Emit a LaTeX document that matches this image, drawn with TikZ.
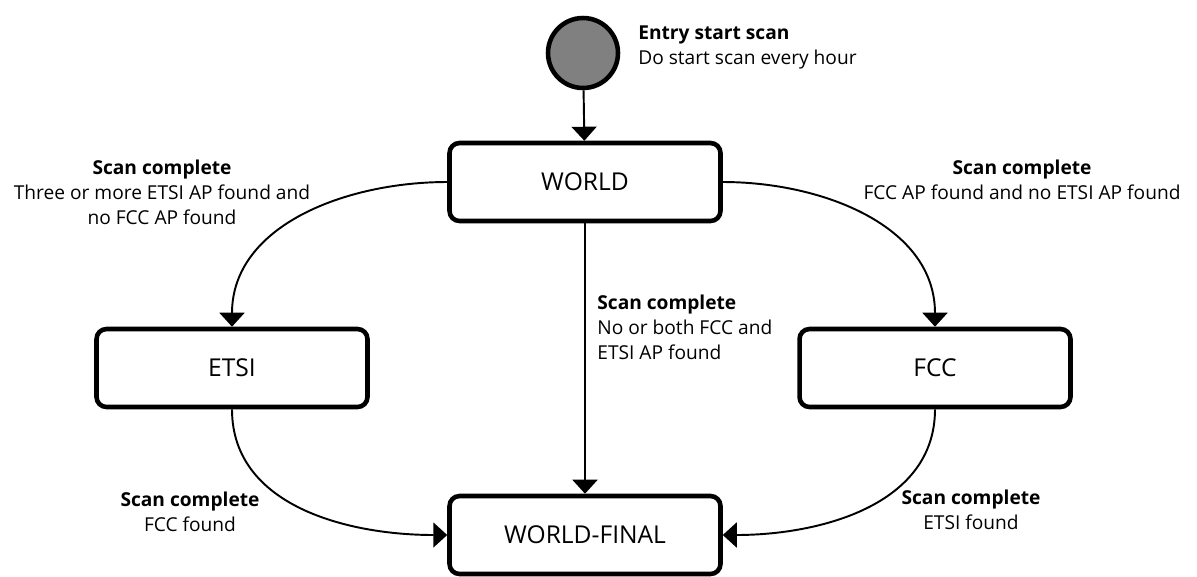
\documentclass[tikz,border=0pt]{standalone}
\usepackage{fontspec}
\setmainfont{Open Sans}
\usetikzlibrary{arrows.meta}

\begin{document}
\begin{tikzpicture}[x=0.02cm,y=-0.02cm,
	statebox/.style={draw,line width=2.6pt,rounded corners=0.2cm,minimum width=5.42cm,minimum height=1.56cm,font=\fontsize{14pt}{16pt}\selectfont},
	trans/.style={line width=1.1pt,-{Triangle[width=0.5cm,length=0.28cm]}},
	lbl/.style={align=center,inner sep=0pt,font=\fontsize{10.9pt}{14.2pt}\selectfont}]
	\useasboundingbox (0,0) rectangle (1197,576);

	% states
	\node [circle,draw,line width=2.6pt,fill=black!50,minimum size=1.4cm,inner sep=0pt] (entry) at (583,53) {};
	\node [statebox] (world) at (585,182) {WORLD};
	\node [statebox] (etsi) at (232,368) {ETSI};
	\node [statebox] (fcc) at (935,368) {FCC};
	\node [statebox] (final) at (585,535) {WORLD-FINAL};

	% transitions
	\draw [trans] (entry) -- (world);
	\draw [trans] (world.west) to[out=180,in=90] (etsi.north);
	\draw [trans] (world.east) to[out=0,in=90] (fcc.north);
	\draw [trans] (world) -- (final);
	\draw [trans] (etsi.south) to[out=-90,in=180] (final.west);
	\draw [trans] (fcc.south) to[out=-90,in=0] (final.east);

	% labels
	\node [lbl,align=left,anchor=west] (lentry) at (638,47) {\textbf{Entry start scan}\\Do start scan every hour};
	\node [lbl] (letsi) at (162,192) {\textbf{Scan complete}\\Three or more ETSI AP found and\\no FCC AP found};
	\node [lbl] (lfcc) at (1022,180) {\textbf{Scan complete}\\FCC AP found and no ETSI AP found};
	\node [lbl,align=left,anchor=west] (lworld) at (597,327) {\textbf{Scan complete}\\No or both FCC and\\ETSI AP found};
	\node [lbl] (lfinal1) at (190,512) {\textbf{Scan complete}\\FCC found};
	\node [lbl] (lfinal2) at (971,510) {\textbf{Scan complete}\\ETSI found};
\end{tikzpicture}
\end{document}
